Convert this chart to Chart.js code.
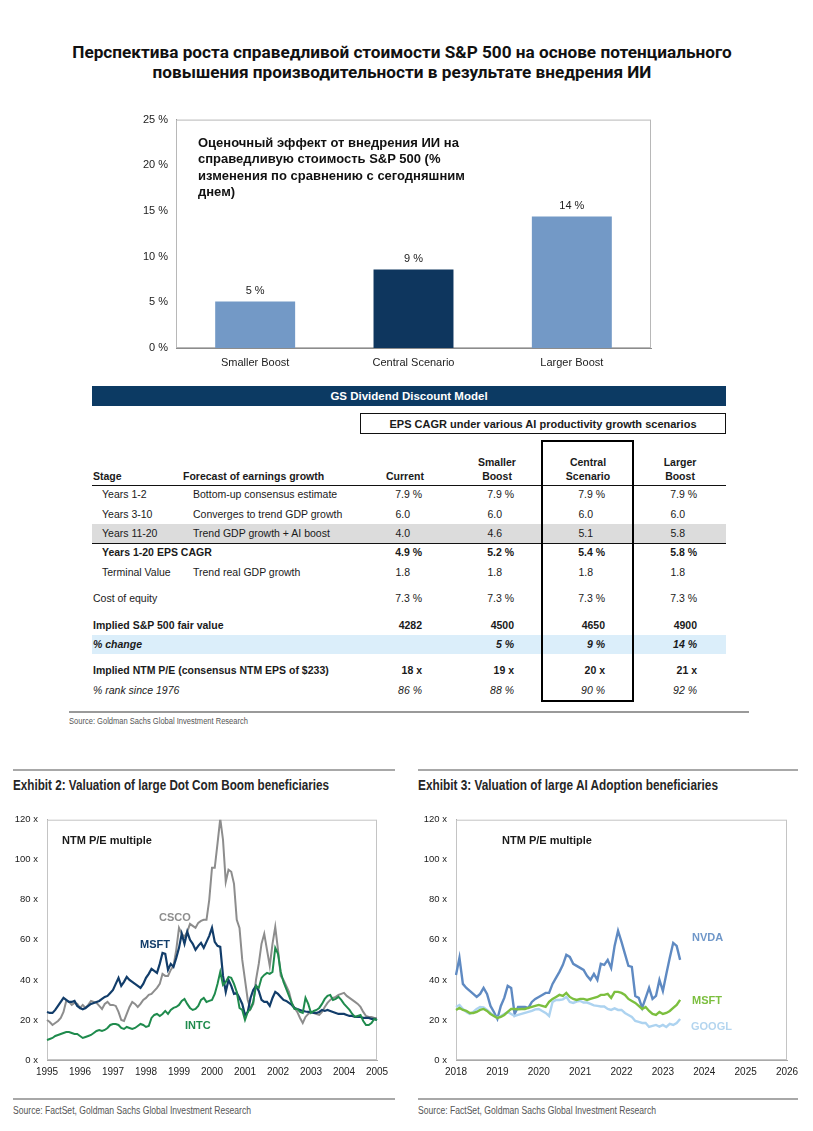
<!DOCTYPE html>
<html lang="ru">
<head>
<meta charset="utf-8">
<title>S&P 500 AI</title>
<script src="https://cdn.jsdelivr.net/npm/chart.js@4.4.1/dist/chart.umd.min.js"></script>
<style>
  body { margin: 0; background: #fff; }
  #pagina {
    position: relative; width: 813px; height: 1131px; overflow: hidden;
    font-family: "Liberation Sans", Arial, sans-serif; color: #1a1a1a;
  }
  .t { position: absolute; white-space: nowrap; line-height: 14px; font-size: 10.5px; }
  .b { font-weight: bold; }
  .i { font-style: italic; }
  .caja { position: absolute; box-sizing: border-box; }
  .titulo {
    position: absolute; left: 0; width: 804px; text-align: center;
    font-family: Roboto, "Liberation Sans", sans-serif; font-weight: 700;
    font-size: 17.2px; line-height: 20px; color: #111;
  }
  canvas { position: absolute; }
</style>
</head>
<body>
<div id="pagina">
  <div class="titulo" style="top:42px">Перспектива роста справедливой стоимости S&amp;P 500 на основе потенциального<br>повышения производительности в результате внедрения ИИ</div>

  <canvas id="graficaBarras" width="545" height="270" style="left:120px; top:105px;"></canvas>
  <div class="t b" style="left:198px; top:135px; font-size:13px; line-height:16.3px; color:#111;">Оценочный эффект от внедрения ИИ на<br>справедливую стоимость S&amp;P 500 (%<br>изменения по сравнению с сегодняшним<br>днем)</div>

  <canvas id="graficaDotCom" width="395" height="285" style="left:0px; top:805px;"></canvas>
  <canvas id="graficaIA" width="395" height="285" style="left:410px; top:805px;"></canvas>
</div>

<script>
// ---------- datos: barras ----------
const escenarios = ["Smaller Boost", "Central Scenario", "Larger Boost"];
const cambioValor = [5.1, 8.6, 14.4];
const etiquetasValor = ["5 %", "9 %", "14 %"];
const coloresBarras = ["#7399c6", "#0e365e", "#7399c6"];
const ticksPorcentaje = [0, 5, 10, 15, 20, 25];

// ---------- datos: tabla ----------
const columnasTabla = ["Current", "Smaller|Boost", "Central|Scenario", "Larger|Boost"];
const filasEtapa = ["Years 1-2", "Years 3-10", "Years 11-20", "Years 1-20 EPS CAGR", "Terminal Value",
  "Cost of equity", "Implied S&P 500 fair value", "% change", "Implied NTM P/E (consensus NTM EPS of $233)", "% rank since 1976"];
const filasDescripcion = ["Bottom-up consensus estimate", "Converges to trend GDP growth", "Trend GDP growth + AI boost",
  "", "Trend real GDP growth", "", "", "", "", ""];
const valoresCurrent = ["7.9 %", "6.0", "4.0", "4.9 %", "1.8", "7.3 %", "4282", "", "18 x", "86 %"];
const valoresSmaller = ["7.9 %", "6.0", "4.6", "5.2 %", "1.8", "7.3 %", "4500", "5 %", "19 x", "88 %"];
const valoresCentral = ["7.9 %", "6.0", "5.1", "5.4 %", "1.8", "7.3 %", "4650", "9 %", "20 x", "90 %"];
const valoresLarger = ["7.9 %", "6.0", "5.8", "5.8 %", "1.8", "7.3 %", "4900", "14 %", "21 x", "92 %"];

// ---------- datos: Exhibit 2 (mensual, 1995-2005) ----------
const csco = [
  20, 19, 17.5, 18.5, 19.5, 21, 24, 29.5, 29, 27.5, 28.5, 28,
  26, 27.5, 26, 27.5, 29.5, 29, 28.5, 27, 25.5, 28, 29, 27.5,
  27.5, 27, 24, 20, 19.5, 23, 26.5, 29, 28, 26.5, 28, 30,
  31, 32.5, 33, 34.5, 36, 38, 43, 42, 42, 45, 47, 55,
  66, 63, 61.5, 64, 68, 67, 66, 68.5, 69.5, 70, 70, 80,
  96, 96, 108, 120.5, 110, 89, 95, 94, 88, 70, 66, 50,
  40, 30, 25.5, 28, 40, 48, 58, 63, 55, 47, 58, 66.5,
  55, 42, 40, 37, 34, 28.5, 26, 24, 21, 18.5, 21.5, 23,
  24, 23.5, 23, 22.5, 24, 26.5, 28.5, 30, 31, 31.5, 32.5, 33,
  33.5, 32, 31, 30, 29, 28, 26.5, 24, 22, 21.5, 21.5, 21,
  21
];
const msft95 = [
  24, 23.5, 23.5, 25, 27, 29, 31, 30, 29, 29, 29.5, 27,
  26, 25.3, 26, 27, 28, 28.5, 29, 29.5, 30.5, 31.5, 32, 33.5,
  35, 38, 41, 37, 39, 41.5, 40, 39, 38, 37, 36, 38,
  41, 43, 45.5, 44.5, 43.5, 48, 53.5, 53, 45, 48, 46.5, 51,
  56, 63, 58, 64, 60, 58, 55, 57, 58.5, 56, 59, 62,
  66, 59, 57, 56.5, 42, 34, 40, 37, 33, 33.5, 31, 28,
  22.5, 24, 31, 35, 37, 34.5, 30, 29, 29, 27, 31, 34,
  33, 31.5, 30, 29.5, 28.5, 27.5, 26, 25.5, 25, 24.5, 24.2, 24,
  24, 23.5, 23.5, 24, 25, 24.5, 25, 24.5, 24, 23.5, 23, 23,
  23, 22.5, 22, 22, 21.5, 21.5, 21.5, 21, 21, 21, 20.5, 20.5,
  20
];
const intc = [
  10, 10.5, 11, 12, 12.5, 13, 13.5, 14, 14, 13.5, 13, 13,
  12, 11, 11.5, 12, 12.5, 13.5, 14.5, 15, 14.5, 15, 16, 17.5,
  18, 18, 17.5, 16, 15.5, 16.5, 16, 15.5, 16, 17, 18, 17.5,
  16.5, 17, 21, 22.5, 23, 22, 23, 24.5, 23, 25, 26, 26.5,
  27.5, 29.5, 30.5, 28, 26, 25, 25.5, 27, 30, 31, 29, 29.5,
  30, 33, 38, 44, 37.5, 39, 41.5, 41, 38, 34, 26, 25,
  20, 24, 25.5, 29, 37, 36, 41, 42.5, 43.5, 43, 44, 56,
  53, 44, 39, 35.5, 32, 28.5, 25.5, 25.5, 24, 23.5, 31, 28,
  23.5, 24.5, 25, 26, 28, 30.5, 32, 32.5, 30, 30.5, 31.5, 30,
  28, 26.5, 25, 23, 21.5, 22, 22.5, 19.5, 17.5, 17.5, 18.5, 20.5,
  20
];

// ---------- datos: Exhibit 3 (mensual, 2018 - mediados 2023) ----------
const nvda = [
  42.5, 51, 38, 36, 34.5, 33, 31.5, 33, 36, 33, 27, 24,
  20.5, 27, 31, 37, 36, 23, 26.5, 26.5, 26.5, 26, 29, 30.5,
  31.5, 32.5, 33.5, 33.5, 38, 41, 44, 47.5, 52.5, 51.5, 48, 47,
  46, 45, 42, 40, 43, 40, 48, 47.5, 50, 46, 57, 64.5,
  59, 53, 47, 46.5, 32, 31, 26, 31, 36, 30.5, 32, 40,
  34.5, 43, 51, 58.5, 57, 50
];
const msft18 = [
  25, 26, 25, 24.5, 23.5, 23.5, 24, 25, 25.5, 24.5, 23, 22,
  21, 21.5, 22.5, 24, 25.5, 25.5, 25.3, 25.5, 25.5, 26, 26.5, 27,
  27.5, 27, 26.5, 29, 30.5, 31.5, 32.5, 32, 33.5, 31.5, 30.5, 30,
  30.5, 30.5, 30, 30.5, 31, 31.5, 32.5, 32.5, 33, 31, 34, 34,
  33.5, 32.5, 30.5, 29.5, 28.5, 27, 25.5, 26.5, 24.5, 23, 22.5, 24,
  23, 23.5, 24.5, 26, 27.5, 30
];
const googl = [
  26.5, 27.5, 25.5, 24, 23, 24, 25.5, 26.5, 26.3, 25, 23.5, 22,
  21, 22, 23, 24, 23, 22, 22.5, 23, 23.5, 24, 24.5, 25.3,
  25.5, 24.5, 23.5, 22, 29, 30, 30, 30.3, 31.5, 29, 28.5, 29.2,
  29.5, 28.7, 28.7, 28, 27.3, 27, 26.7, 26.7, 25.5, 25, 25.8, 25,
  25, 23.5, 22.5, 21.5, 19.5, 19, 18.5, 18.5, 16.5, 17, 17.5, 16.7,
  17.5, 16.5, 18, 17.5, 18.5, 20.5
];
const ticksMultiplo = [0, 20, 40, 60, 80, 100, 120];

function meses(desde, hasta) {
  const lista = [];
  for (let a = desde; a <= hasta; a++) {
    for (let m = 1; m <= 12; m++) {
      if (a === hasta && m > 1) break;
      lista.push(a + "-" + String(m).padStart(2, "0"));
    }
  }
  return lista;
}
const meses95 = meses(1995, 2005);
const meses18 = meses(2018, 2026);

// ---------- textos sueltos ----------
const pagina = document.getElementById("pagina");

function texto(x, y, contenido, clases, alinear, estilo) {
  const d = document.createElement("div");
  d.className = "t " + (clases || "");
  d.textContent = contenido;
  d.style.top = (y - 7) + "px";
  if (alinear === "right") {
    d.style.right = (813 - x) + "px";
  } else if (alinear === "center") {
    d.style.left = (x - 100) + "px";
    d.style.width = "200px";
    d.style.textAlign = "center";
  } else {
    d.style.left = x + "px";
  }
  if (estilo) Object.assign(d.style, estilo);
  pagina.appendChild(d);
  return d;
}

// texto estrecho: se comprime horizontalmente hasta el ancho del original
function textoEstrecho(x, y, contenido, clases, estilo, ancho) {
  const d = texto(x, y, contenido, clases, "left", estilo);
  const real = d.getBoundingClientRect().width;
  d.style.transformOrigin = "left center";
  d.style.transform = "scaleX(" + (ancho / real) + ")";
  return d;
}

function caja(x, y, w, h, estilo) {
  const d = document.createElement("div");
  d.className = "caja";
  Object.assign(d.style, { left: x + "px", top: y + "px", width: w + "px", height: h + "px" }, estilo);
  pagina.appendChild(d);
  return d;
}

// ---------- tabla ----------
caja(92, 386, 634, 20, { background: "#0c3a63" });
texto(409, 396, "GS Dividend Discount Model", "b", "center", { color: "#fff", fontSize: "11.5px" });
caja(360, 413, 366, 21, { border: "1.5px solid #111" });
texto(543, 423.5, "EPS CAGR under various AI productivity growth scenarios", "b", "center", { fontSize: "11px", width: "360px", left: "363px" });

caja(92, 524, 634, 19, { background: "#dcdcdc" });
caja(92, 635, 634, 19, { background: "#dbeefa" });
caja(92, 485, 634, 1, { background: "#111" });
caja(92, 543, 634, 1, { background: "#111" });

texto(93, 476, "Stage", "b");
texto(183, 476, "Forecast of earnings growth", "b");
const centrosColumnas = [405, 497, 588, 680];
columnasTabla.forEach((col, i) => {
  const partes = col.split("|");
  if (partes.length === 1) {
    texto(centrosColumnas[i], 476, partes[0], "b", "center");
  } else {
    texto(centrosColumnas[i], 462, partes[0], "b", "center");
    texto(centrosColumnas[i], 476, partes[1], "b", "center");
  }
});

const filasY = [494, 514, 533, 552, 572, 598, 625, 644, 670, 690];
const filasX = [102, 102, 102, 102, 102, 93, 93, 93, 93, 93];
const filasClase = ["", "", "", "b", "", "", "b", "b i", "b", "i"];
const bordesDerechos = [422, 514, 605, 697];
const columnasValores = [valoresCurrent, valoresSmaller, valoresCentral, valoresLarger];

filasEtapa.forEach((etapa, i) => {
  texto(filasX[i], filasY[i], etapa, filasClase[i]);
  if (filasDescripcion[i]) texto(193, filasY[i], filasDescripcion[i], filasClase[i]);
  columnasValores.forEach((valores, c) => {
    const v = valores[i];
    if (!v) return;
    const sinSufijo = /^[0-9.]+$/.test(v) && v.indexOf(".") > -1;
    texto(bordesDerechos[c] - (sinSufijo ? 12 : 0), filasY[i], v, filasClase[i], "right");
  });
});

caja(541, 440, 93, 262, { border: "2.5px solid #000" });
caja(69, 711, 680, 1.5, { background: "#9a9a9a" });
textoEstrecho(69, 721, "Source: Goldman Sachs Global Investment Research", "", { fontSize: "8.5px", color: "#555" }, 179);

// ---------- exhibits: textos ----------
caja(13, 769, 382, 1.5, { background: "#a8a8a8" });
caja(418, 769, 380, 1.5, { background: "#a8a8a8" });
caja(13, 1098, 382, 1.5, { background: "#a8a8a8" });
caja(418, 1098, 380, 1.5, { background: "#a8a8a8" });
textoEstrecho(13, 785, "Exhibit 2: Valuation of large Dot Com Boom beneficiaries", "b", { fontSize: "14.5px", color: "#262626" }, 316);
textoEstrecho(418, 785, "Exhibit 3: Valuation of large AI Adoption beneficiaries", "b", { fontSize: "14.5px", color: "#262626" }, 300);
textoEstrecho(13, 1111, "Source: FactSet, Goldman Sachs Global Investment Research", "", { fontSize: "10px", color: "#555" }, 238);
textoEstrecho(418, 1111, "Source: FactSet, Goldman Sachs Global Investment Research", "", { fontSize: "10px", color: "#555" }, 238);

texto(62, 840, "NTM P/E multiple", "b", "left", { fontSize: "11px" });
texto(502, 840, "NTM P/E multiple", "b", "left", { fontSize: "11px" });
texto(159, 917, "CSCO", "b", "left", { fontSize: "11px", color: "#8d8d8d" });
texto(140, 944, "MSFT", "b", "left", { fontSize: "11px", color: "#123d6a" });
texto(185, 1025, "INTC", "b", "left", { fontSize: "11px", color: "#1f8b4d" });
texto(692, 937, "NVDA", "b", "left", { fontSize: "11px", color: "#6f97c9" });
texto(692, 1000, "MSFT", "b", "left", { fontSize: "11px", color: "#7cbf3f" });
texto(691, 1026, "GOOGL", "b", "left", { fontSize: "11px", color: "#b4d5ef" });

// ---------- plugins ----------
const marco = {
  id: "marco",
  beforeDatasetsDraw(chart, args, opciones) {
    const { ctx, chartArea: a } = chart;
    ctx.save();
    ctx.strokeStyle = opciones.color || "#bdbdbd";
    ctx.lineWidth = 1;
    ctx.strokeRect(a.left + 0.5, a.top + 0.5, a.width - 1, a.height - 1);
    ctx.restore();
  }
};

const rotulosBarras = {
  id: "rotulosBarras",
  afterDatasetsDraw(chart) {
    const { ctx } = chart;
    chart.getDatasetMeta(0).data.forEach((barra, i) => {
      ctx.save();
      ctx.font = '11px "Liberation Sans", Arial, sans-serif';
      ctx.fillStyle = "#222";
      ctx.textAlign = "center";
      ctx.textBaseline = "middle";
      ctx.fillText(etiquetasValor[i], barra.x, barra.y - 10);
      ctx.restore();
    });
  }
};

Chart.defaults.font.family = '"Liberation Sans", Arial, sans-serif';
Chart.defaults.color = "#333";

// ---------- gráfica de barras ----------
new Chart(document.getElementById("graficaBarras"), {
  type: "bar",
  data: {
    labels: escenarios,
    datasets: [{
      data: cambioValor,
      backgroundColor: coloresBarras,
      borderWidth: 0,
      categoryPercentage: 1,
      barPercentage: 0.505
    }]
  },
  options: {
    responsive: false,
    animation: false,
    layout: { padding: { top: 14, right: 14, left: 0, bottom: 0 } },
    plugins: { legend: { display: false }, tooltip: { enabled: false }, marco: { color: "#b8b8b8" } },
    scales: {
      x: {
        grid: { display: false, drawTicks: false },
        border: { color: "#8c8c8c" },
        ticks: { padding: 8, font: { size: 11 }, color: "#222" },
        afterFit(escala) { escala.height = 27; }
      },
      y: {
        min: 0, max: 25,
        afterBuildTicks(escala) { escala.ticks = ticksPorcentaje.map(v => ({ value: v })); },
        grid: { display: false, drawTicks: false },
        border: { color: "#8c8c8c" },
        ticks: { padding: 8, font: { size: 11 }, color: "#222", callback: v => v + " %" },
        afterFit(escala) { escala.width = 56; }
      }
    }
  },
  plugins: [marco, rotulosBarras]
});

// ---------- gráficas de líneas ----------
function graficaLineas(id, etiquetas, series, anchoEje) {
  return new Chart(document.getElementById(id), {
    type: "line",
    data: {
      labels: etiquetas,
      datasets: series.map(s => ({
        data: s.datos,
        borderColor: s.color,
        borderWidth: s.grosor,
        pointRadius: 0,
        tension: 0,
        fill: false
      }))
    },
    options: {
      responsive: false,
      animation: false,
      layout: { padding: { top: 14, right: 18, left: 0, bottom: 0 } },
      plugins: { legend: { display: false }, tooltip: { enabled: false }, marco: { color: "#c4c4c4" } },
      scales: {
        x: {
          offset: false,
          grid: { display: false, drawTicks: false },
          border: { color: "#a9a9a9" },
          ticks: {
            autoSkip: false, maxRotation: 0, padding: 6, font: { size: 10 }, color: "#222",
            callback(v) {
              const l = this.getLabelForValue(v);
              return l.endsWith("-01") ? l.slice(0, 4) : null;
            }
          },
          afterFit(escala) { escala.height = 30; }
        },
        y: {
          min: 0, max: 120,
          afterBuildTicks(escala) { escala.ticks = ticksMultiplo.map(v => ({ value: v })); },
          grid: { display: false, drawTicks: false },
          border: { color: "#a9a9a9" },
          ticks: { padding: 9, font: { size: 9.5 }, color: "#222", callback: v => v + " x" },
          afterFit(escala) { escala.width = anchoEje; }
        }
      }
    },
    plugins: [marco]
  });
}

graficaLineas("graficaDotCom", meses95, [
  { datos: intc, color: "#1f8b4d", grosor: 2 },
  { datos: msft95, color: "#123d6a", grosor: 2.2 },
  { datos: csco, color: "#8d8d8d", grosor: 2 }
], 47);

graficaLineas("graficaIA", meses18, [
  { datos: msft18, color: "#7cbf3f", grosor: 2.4 },
  { datos: googl, color: "#add3f0", grosor: 2.4 },
  { datos: nvda, color: "#5f8ac2", grosor: 2.4 }
], 46);
</script>
</body>
</html>
